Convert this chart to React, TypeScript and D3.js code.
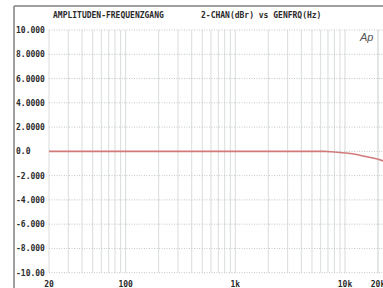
import React from "react";
import * as d3 from "d3";

// frequency response, Hz -> dBr
const freqs = [20, 50, 100, 200, 500, 1000, 2000, 5000, 6500, 7000, 8000, 10000, 12000, 15000, 18000, 20000, 22500];
const levels = [0, 0, 0, 0, 0, 0, 0, 0, 0, -0.02, -0.05, -0.13, -0.22, -0.4, -0.55, -0.65, -0.8];

const yTicks = [10, 8, 6, 4, 2, 0, -2, -4, -6, -8, -10];
const yLabels = ["10.000", "8.0000", "6.0000", "4.0000", "2.0000", "0.0", "-2.000", "-4.000", "-6.000", "-8.000", "-10.00"];
const xTicks = [20, 100, 1000, 10000, 20000];
const xLabels = ["20", "100", "1k", "10k", "20k"];

const W = 383;
const H = 288;

export default function App() {
  const x = d3.scaleLog().domain([20, 20000]).range([49, 378]);
  const y = d3.scaleLinear().domain([-10, 10]).range([272.7, 30]);

  const grid: number[] = [];
  [10, 100, 1000, 10000].forEach((dec) => {
    for (let m = 1; m <= 9; m++) {
      const f = dec * m;
      if (f >= 20 && f <= 20000) grid.push(f);
    }
  });
  grid.push(20000);

  const line = d3
    .line<number>()
    .x((d, i) => x(freqs[i]))
    .y((d) => y(d))
    .curve(d3.curveMonotoneX);

  const font = "'DejaVu Sans Mono', monospace";

  return (
    <svg
      width={W}
      height={H}
      style={{ position: "absolute", left: 0, top: 0, background: "#fff" }}
    >
      {grid.map((f) => (
        <line
          key={"v" + f}
          x1={x(f)}
          x2={x(f)}
          y1={y(10)}
          y2={y(-10)}
          stroke="#d9dddd"
          strokeWidth={1}
        />
      ))}
      {yTicks.map((v) => (
        <line
          key={"h" + v}
          x1={x(20)}
          x2={W}
          y1={y(v)}
          y2={y(v)}
          stroke="#bfc6cc"
          strokeWidth={1}
          strokeDasharray="1,1.5"
        />
      ))}
      <path d={line(levels) || ""} fill="none" stroke="#d27a7a" strokeWidth={1.6} />
      <line x1={14} x2={14} y1={6} y2={H} stroke="#808080" strokeWidth={1.5} />
      <line x1={14} x2={W} y1={6} y2={6} stroke="#808080" strokeWidth={1.5} />
      <text x={53} y={18} fontFamily={font} fontSize={8} fontWeight="bold" fill="#2a2a2a">
        AMPLITUDEN-FREQUENZGANG
      </text>
      <text x={201} y={18} fontFamily={font} fontSize={8} fontWeight="bold" fill="#2a2a2a">
        2-CHAN(dBr) vs GENFRQ(Hz)
      </text>
      {yTicks.map((v, i) => (
        <text
          key={"yl" + v}
          x={16}
          y={y(v) + 3}
          fontFamily={font}
          fontSize={8}
          fontWeight="bold"
          fill="#2a2a2a"
        >
          {yLabels[i]}
        </text>
      ))}
      {xTicks.map((f, i) => (
        <text
          key={"xl" + f}
          x={x(f)}
          y={287}
          textAnchor="middle"
          fontFamily={font}
          fontSize={8}
          fontWeight="bold"
          fill="#2a2a2a"
        >
          {xLabels[i]}
        </text>
      ))}
      <text
        x={360}
        y={41}
        fontFamily="'Liberation Sans', sans-serif"
        fontStyle="italic"
        fontSize={11}
        fill="#555"
      >
        Ap
      </text>
    </svg>
  );
}
